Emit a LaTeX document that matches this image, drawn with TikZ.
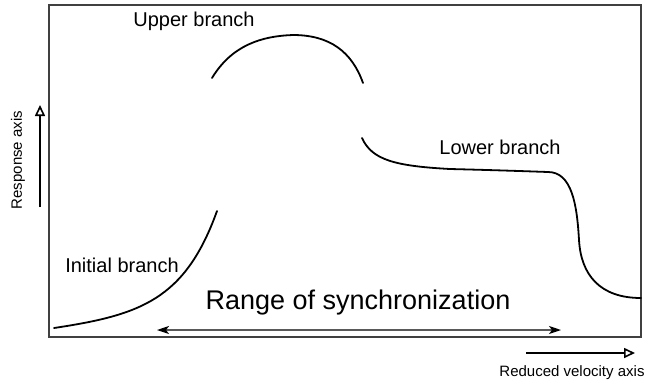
\documentclass[tikz,border=0pt]{standalone}
\usepackage{fontspec}
\setmainfont{Liberation Sans}
\usetikzlibrary{arrows.meta}
\begin{document}
\begin{tikzpicture}[x=1pt,y=-1pt,
  curve/.style={line width=1.8pt, line cap=round, line join=round},
  frame/.style={draw=black!75, line width=1.5pt},
  axisarrow/.style={line width=2pt, -{Triangle[open, length=11pt, width=10pt, line width=1.6pt]}},
  rangearrow/.style={draw=black!65, line width=1.5pt, {Stealth[black, length=12pt, width=8pt, inset=3pt]}-{Stealth[black, length=12pt, width=8pt, inset=3pt]}},
  lbl/.style={inner sep=0pt, font=\fontsize{20}{24}\selectfont},
  axlbl/.style={inner sep=0pt, font=\fontsize{15}{18}\selectfont}]
\useasboundingbox (0,0) rectangle (650,384);
% plot frame
\draw[frame] (49,5) rectangle (641,337);
% initial branch
\draw[curve] (54,328) .. controls (140,315) and (185,300) .. (217,211);
% upper branch
\draw[curve] (212,78) .. controls (232,45) and (262,36) .. (293,35)
  .. controls (330,35) and (352,52) .. (363,83);
% lower branch
\draw[curve] (362,138) .. controls (372,160) and (395,166) .. (450,169)
  .. controls (490,170) and (520,171) .. (548,172)
  .. controls (572,172) and (577,205) .. (579,240)
  .. controls (581,275) and (600,298) .. (641,298);
% labels
\node[lbl] (up) at (194,21) {Upper branch};
\node[lbl] (low) at (500,147) {Lower branch};
\node[lbl] (init) at (122,265) {Initial branch};
\node[inner sep=0pt, font=\fontsize{27}{32}\selectfont] (range) at (358,303) {Range of synchronization};
% synchronization range
\coordinate (ra) at (157,330);
\coordinate (rb) at (561,330);
\draw[rangearrow] (ra) -- (rb);
% response axis
\coordinate (ya) at (40,207);
\coordinate (yb) at (40,105);
\draw[axisarrow] (ya) -- (yb);
\node[axlbl, rotate=90] (ylab) at (18,160) {Response axis};
% reduced velocity axis
\coordinate (xa) at (526,353);
\coordinate (xb) at (635,353);
\draw[axisarrow] (xa) -- (xb);
\node[axlbl] (xlab) at (572,373) {Reduced velocity axis};
\end{tikzpicture}
\end{document}
